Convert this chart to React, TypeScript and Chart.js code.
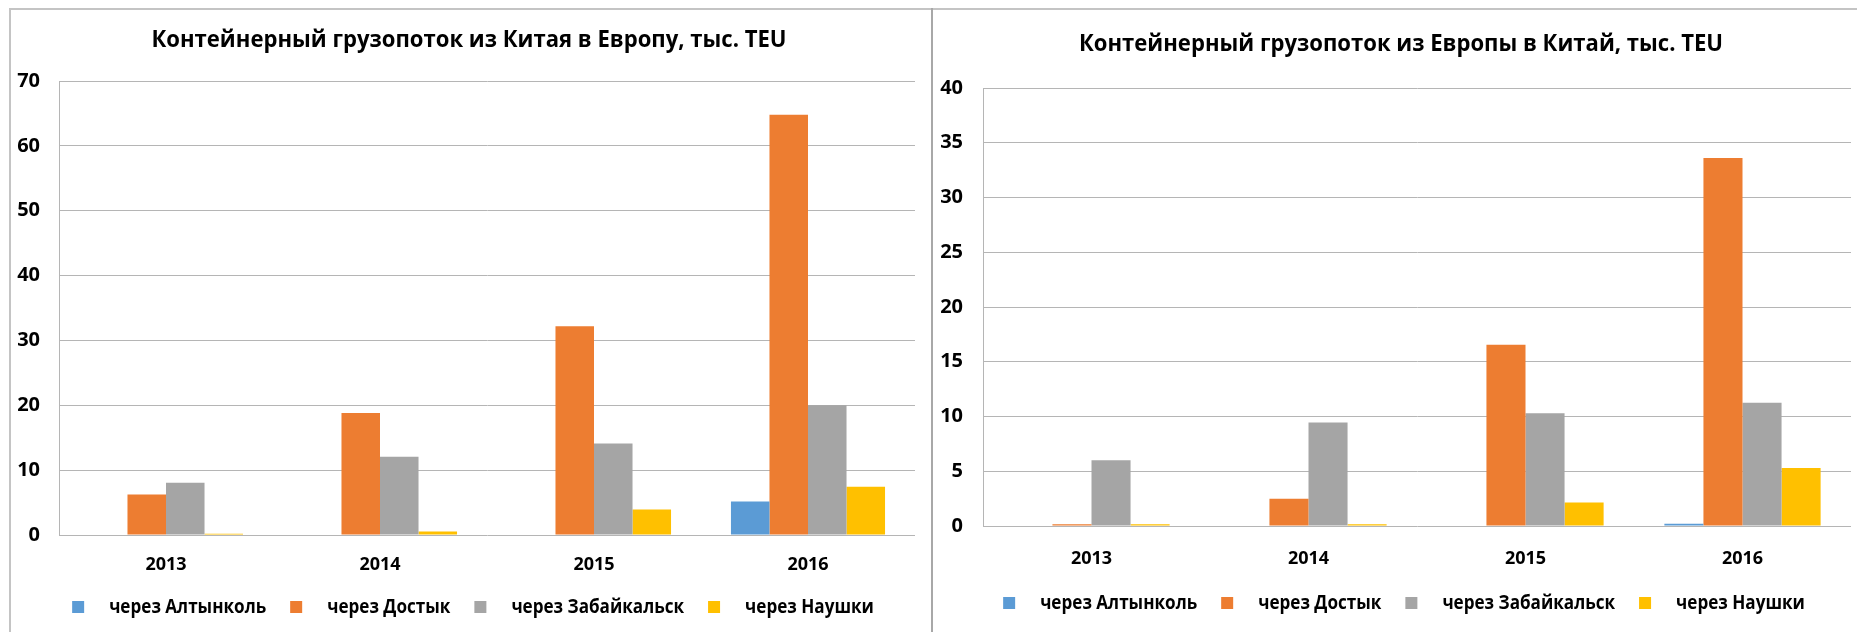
import React, { useEffect, useRef } from "react";
import { Chart, registerables } from "chart.js";

Chart.register(...registerables);

const categories = ["2013", "2014", "2015", "2016"];
const seriesNames = ["через Алтынколь", "через Достык", "через Забайкальск", "через Наушки"];
const seriesColors = ["#5B9BD5", "#ED7D31", "#A5A5A5", "#FFC000"];

// Из Китая в Европу
const westAltynkol = [0, 0, 0, 5.15];
const westDostyk = [6.25, 18.8, 32.2, 64.8];
const westZabaikalsk = [8.05, 12.05, 14.1, 20.0];
const westNaushki = [0.2, 0.55, 3.95, 7.45];
const westTicks = [0, 70, 10];

// Из Европы в Китай
const eastAltynkol = [0, 0, 0, 0.2];
const eastDostyk = [0.15, 2.5, 16.55, 33.6];
const eastZabaikalsk = [6.0, 9.45, 10.3, 11.25];
const eastNaushki = [0.15, 0.15, 2.15, 5.3];
const eastTicks = [0, 40, 5];

const titleWest = "Контейнерный грузопоток из Китая в Европу, тыс. TEU";
const titleEast = "Контейнерный грузопоток из Европы в Китай, тыс. TEU";

const FONT = '"Open Sans", "Noto Sans", sans-serif';
const GRID = "#b5b5b5";

type Layout = {
  width: number;
  height: number;
  plotLeft: number;
  plotTop: number;
  rightPad: number;
  xAxisHeight: number;
  yPad: number;
  xPad: number;
  titleX: number;
  titleY: number;
  legendX: number;
  legendY: number;
};

function Panel(props: {
  title: string;
  series: number[][];
  ticks: number[];
  layout: Layout;
  left: number;
  top: number;
}) {
  const ref = useRef<HTMLCanvasElement | null>(null);
  useEffect(() => {
    const L = props.layout;
    const overlay = {
      id: "overlay",
      afterDraw(chart: any) {
        const ctx = chart.ctx;
        ctx.save();
        ctx.fillStyle = "#000";
        ctx.textBaseline = "middle";
        // title (slightly condensed)
        ctx.font = `bold 24px ${FONT}`;
        ctx.textAlign = "center";
        const tsx = 0.92;
        ctx.save();
        ctx.translate(L.titleX, L.titleY);
        ctx.scale(tsx, 1);
        ctx.fillText(props.title, 0, 0);
        ctx.restore();
        // legend
        ctx.font = `bold 19px ${FONT}`;
        ctx.textAlign = "left";
        const lsx = 0.9;
        const box = 12;
        const gapBox = 25;
        const gapItem = 24;
        const widths = seriesNames.map((n) => ctx.measureText(n).width * lsx);
        let total = 0;
        widths.forEach((w, i) => {
          total += box + gapBox + w + (i < widths.length - 1 ? gapItem : 0);
        });
        let x = L.legendX - total / 2;
        seriesNames.forEach((n, i) => {
          ctx.fillStyle = seriesColors[i];
          ctx.fillRect(x, L.legendY - box / 2, box, box);
          x += box + gapBox;
          ctx.fillStyle = "#000";
          ctx.save();
          ctx.translate(x, L.legendY + 1);
          ctx.scale(lsx, 1);
          ctx.fillText(n, 0, 0);
          ctx.restore();
          x += widths[i] + gapItem;
        });
        ctx.restore();
      },
    };
    const chart = new Chart(ref.current as HTMLCanvasElement, {
      type: "bar",
      data: {
        labels: categories,
        datasets: props.series.map((d, i) => ({
          label: seriesNames[i],
          data: d,
          backgroundColor: seriesColors[i],
          borderWidth: 0,
          barPercentage: 1,
          categoryPercentage: 0.72,
        })),
      },
      options: {
        animation: false,
        responsive: false,
        maintainAspectRatio: false,
        devicePixelRatio: 1,
        layout: {
          padding: { left: 0, top: L.plotTop, right: L.rightPad, bottom: 0 },
        },
        plugins: {
          legend: { display: false },
          title: { display: false },
          tooltip: { enabled: false },
        },
        scales: {
          x: {
            grid: { display: false, drawTicks: false },
            border: { display: false },
            ticks: {
              color: "#000",
              font: { family: FONT, size: 18, weight: "bold" },
              padding: L.xPad,
            },
            afterFit: (s: any) => {
              s.height = L.xAxisHeight;
            },
          },
          y: {
            min: props.ticks[0],
            max: props.ticks[1],
            grid: { color: GRID, lineWidth: 1, drawTicks: false },
            border: { display: true, color: GRID, width: 1 },
            ticks: {
              stepSize: props.ticks[2],
              color: "#000",
              font: { family: FONT, size: 20, weight: "bold" },
              padding: L.yPad,
            },
            afterFit: (s: any) => {
              s.width = L.plotLeft;
            },
          },
        },
      },
      plugins: [overlay],
    });
    return () => chart.destroy();
  }, []);
  return (
    <canvas
      ref={ref}
      width={props.layout.width}
      height={props.layout.height}
      style={{
        position: "absolute",
        left: props.left,
        top: props.top,
        width: props.layout.width,
        height: props.layout.height,
      }}
    />
  );
}

const layoutWest: Layout = {
  width: 920,
  height: 622,
  plotLeft: 48,
  plotTop: 71,
  rightPad: 16,
  xAxisHeight: 97,
  yPad: 19,
  xPad: 19,
  titleX: 458,
  titleY: 30,
  legendX: 462,
  legendY: 597,
};

const layoutEast: Layout = {
  width: 924,
  height: 622,
  plotLeft: 50,
  plotTop: 78,
  rightPad: 6,
  xAxisHeight: 106,
  yPad: 20,
  xPad: 22,
  titleX: 468,
  titleY: 34,
  legendX: 471,
  legendY: 593,
};

export default function App() {
  return (
    <div
      style={{
        position: "absolute",
        left: 0,
        top: 0,
        width: 1857,
        height: 632,
        background: "#fff",
        overflow: "hidden",
      }}
    >
      <div style={{ position: "absolute", left: 9, top: 8, width: 1848, height: 2, background: "#c4c4c4" }} />
      <div style={{ position: "absolute", left: 9, top: 8, width: 2, height: 624, background: "#c4c4c4" }} />
      <div style={{ position: "absolute", left: 931, top: 8, width: 2, height: 624, background: "#a8a8a8" }} />
      <Panel
        title={titleWest}
        series={[westAltynkol, westDostyk, westZabaikalsk, westNaushki]}
        ticks={westTicks}
        layout={layoutWest}
        left={11}
        top={10}
      />
      <Panel
        title={titleEast}
        series={[eastAltynkol, eastDostyk, eastZabaikalsk, eastNaushki]}
        ticks={eastTicks}
        layout={layoutEast}
        left={933}
        top={10}
      />
    </div>
  );
}
